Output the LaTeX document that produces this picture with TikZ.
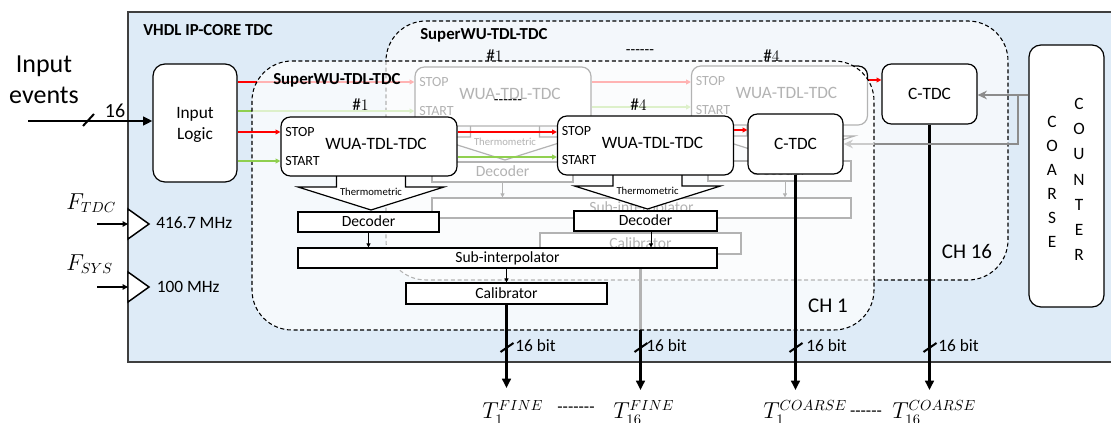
\documentclass[tikz,border=0pt]{standalone}
\usepackage{fontspec}
\setmainfont{Carlito}
\usetikzlibrary{arrows.meta,calc}
\definecolor{bgblue}{HTML}{DEEBF7}
\definecolor{chfill}{HTML}{F3F7FB}
\definecolor{sigred}{HTML}{FF0000}
\definecolor{siggreen}{HTML}{8FCF4F}
\definecolor{cntgray}{HTML}{8C8C8C}
\definecolor{framegray}{HTML}{3F3F3F}
\newcommand{\hy}{\hbox{-}}
\newcommand{\wuablock}[3]{%
  \begin{scope}[shift={(#2,#3)}]
    \draw[fill=white, line width=0.9pt] (-32.5,29.5) -- (-32.5,40.5) -- (-71,40.5) -- (2,63.5) -- (75,40.5) -- (36.5,40.5) -- (36.5,29.5);
    \node[ftiny] (#1-th) at (2,45.5) {Thermometric};
    \node[blk, sz={176}{59}] (#1) at (0,0) {};
    \node[sm, anchor=base west] (#1-stop) at (-84,-9.5) {STOP};
    \node[sm, anchor=base west] (#1-start) at (-84,19.5) {START};
    \node[txt, anchor=base] (#1-lbl) at (7,3.5) {WUA-TDL-TDC};
  \end{scope}}
\begin{document}
\begin{tikzpicture}[x=0.75pt,y=-0.75pt,
  sz/.style 2 args={minimum width=#1*0.75pt, minimum height=#2*0.75pt},
  blk/.style={draw=black, line width=0.9pt, fill=white, rounded corners=7pt, inner sep=0pt},
  rbox/.style={draw=black, line width=0.9pt, fill=white, inner sep=0pt, font=\fontsize{11.7}{14}\selectfont, text height=7.5pt, text depth=0pt},
  txt/.style={inner sep=0pt, font=\fontsize{13}{15.75}\selectfont},
  sm/.style={inner sep=0pt, font=\fontsize{10.5}{12.6}\selectfont},
  ftiny/.style={inner sep=0pt, font=\fontsize{8}{9.6}\selectfont},
  ttl/.style={inner sep=0pt, font=\bfseries\fontsize{12.6}{15}\selectfont},
  chlbl/.style={inner sep=0pt, font=\fontsize{15.7}{18.8}\selectfont},
  hashlbl/.style={inner sep=0pt, font=\fontsize{13}{15}\selectfont},
  mlbl/.style={inner sep=0pt, font=\fontsize{16}{19}\selectfont},
  dashlbl/.style={inner sep=0pt, font=\fontsize{11.5}{13.8}\selectfont},
  chreg/.style={line width=0.8pt, dash pattern=on 3pt off 2pt, rounded corners=30pt},
  sig/.style={line width=1.1pt, -{Triangle[length=3.5pt,width=3.5pt]}},
  thinarr/.style={line width=0.6pt, -{Triangle[length=3pt,width=3pt]}},
  bus/.style={line width=1.9pt, -{Triangle[length=7pt,width=6.5pt]}},
  cnt/.style={draw=cntgray, line width=1.9pt},
  slash/.style={line width=1.5pt}
]
\useasboundingbox (0,0) rectangle (1111,423);

% helper levels
\coordinate (yg82) at (0,82);
\coordinate (yg80) at (0,80);
\coordinate (yg111) at (0,111);
\coordinate (yg107) at (0,107);
\coordinate (y132) at (0,132);
\coordinate (y130) at (0,130);
\coordinate (y161) at (0,161);
\coordinate (y157) at (0,157);
\coordinate (yout) at (0,390);
\coordinate (yout1) at (0,388);

% outer IP core
\draw[draw=framegray, fill=bgblue, line width=1.1pt] (128,12) rectangle (1130,362);
\node[ttl, anchor=base west] (title) at (143,36) {VHDL IP-CORE TDC};

% input logic
\node[blk, sz={84}{118}, rounded corners=9pt, font=\fontsize{13}{15.75}\selectfont, align=center, text depth=0pt] (inlog) at (195,123) {Input\\Logic};

% CH16 region
\draw[chreg, fill=chfill] (386,21) rectangle (1008,280);
\node[ttl, anchor=base west] (sw16) at (420,39.5) {SuperWU-TDL-TDC};
\node[chlbl] (ch16) at (967,251.5) {CH 16};
\node[hashlbl] (gh1) at (494.5,56) {$\#1$};
\node[hashlbl] (gh4) at (771.5,56) {$\#4$};
\node[dashlbl] (gdots) at (640,52) {\hy\hy\hy\hy\hy\hy};

% CH16 ghost content
\node[rbox, sz={419}{20}] (gsub) at (641.5,208) {Sub-interpolator};
\node[rbox, sz={201}{21}] (gcal) at (640.5,243.5) {Calibrator};
\node[rbox, sz={141}{20}] (gdec1) at (502.5,172) {Decoder};
\node[rbox, sz={143}{20}] (gdec4) at (779.5,171) {Decoder};
\wuablock{gw1}{503}{96.5}
\wuablock{gw4}{779.5}{95.5}
\node[blk, sz={95}{60}, txt] (ct16) at (929.5,94) {C-TDC};
\draw[thinarr] (gdec1.south) -- (gdec1.south |- gsub.north);
\draw[thinarr] ($(gdec4.south)+(5.5,0)$) coordinate (gd4s) -- (gd4s |- gsub.north);
\draw[thinarr] (gcal.north |- gsub.south) -- (gcal.north);
\draw[sig, sigred] (inlog.east |- yg82) -- (gw1.west |- yg82);
\draw[sig, siggreen] (inlog.east |- yg111) -- (gw1.west |- yg111);
\draw[sig, sigred] (gw1.east |- yg82) -- (gw4.west |- yg82);
\draw[sig, siggreen] (gw1.east |- yg107) -- (gw4.west |- yg107);
\draw[sig, sigred] (gw4.east |- yg80) -- (ct16.west |- yg80);

% coarse counter
\node[blk, sz={75}{262}, rounded corners=9pt] (counter) at (1066.5,176) {};
\node[txt, align=center, text depth=0pt, font=\fontsize{13}{18}\selectfont] (cw1) at (1052,182) {C\\O\\A\\R\\S\\E};
\node[txt, align=center, text depth=0pt, font=\fontsize{13}{18.9}\selectfont] (cw2) at (1079,179.5) {C\\O\\U\\N\\T\\E\\R};
\coordinate (cj) at (1018,95);
\coordinate (cb) at (1018,144);
\draw[cnt, -{Stealth[length=7pt,width=6.5pt]}] (counter.west |- cj) -- (ct16.east |- cj);

% CH16 outputs
\draw[bus] (gcal.south) -- (gcal.south |- yout);
\draw[bus] (ct16.south) -- (ct16.south |- yout);

% CH1 region (overlay)
\fill[white, opacity=0.7, rounded corners=30pt] (252,61) rectangle (874,330);
\draw[chreg] (252,61) rectangle (874,330);
\node[ttl, anchor=base west] (sw1) at (273,85) {SuperWU-TDL-TDC};
\node[chlbl] (ch1) at (828,305.5) {CH 1};
\node[hashlbl] (h1) at (360.5,104.5) {$\#1$};
\node[hashlbl] (h4) at (638.5,104.5) {$\#4$};
\node[dashlbl] (dots1) at (508,102) {\hy\hy\hy\hy\hy\hy};

% CH1 content
\node[rbox, sz={419}{20}] (sub) at (507.5,258) {Sub-interpolator};
\node[rbox, sz={201}{21}] (cal) at (506.5,293.5) {Calibrator};
\node[rbox, sz={141}{20}] (dec1) at (368.5,222) {Decoder};
\node[rbox, sz={143}{20}] (dec4) at (645.5,221) {Decoder};
\wuablock{w1}{369}{146.5}
\wuablock{w4}{645.5}{145.5}
\node[blk, sz={95}{60}, txt] (ct1) at (795.5,144) {C-TDC};
\draw[thinarr] (dec1.south) -- (dec1.south |- sub.north);
\draw[thinarr] ($(dec4.south)+(5.5,0)$) coordinate (d4s) -- (d4s |- sub.north);
\draw[thinarr] (cal.north |- sub.south) -- (cal.north);
\draw[sig, sigred] (inlog.east |- y132) -- (w1.west |- y132);
\draw[sig, siggreen] (inlog.east |- y161) -- (w1.west |- y161);
\draw[sig, sigred] (w1.east |- y132) -- (w4.west |- y132);
\draw[sig, siggreen] (w1.east |- y157) -- (w4.west |- y157);
\draw[sig, sigred] (w4.east |- y130) -- (ct1.west |- y130);

% counter branch to CH1 C-TDC (faded inside CH1)
\draw[cnt] (cj) -- (cb) -- (874,144);
\draw[draw=cntgray!45, line width=1.9pt, -{Stealth[length=7pt,width=6.5pt]}] (874,144) -- (ct1.east |- cb);

% CH1 outputs
\draw[bus] (cal.south) -- (cal.south |- yout1);
\draw[bus] (ct1.south) -- (ct1.south |- yout);

% bus slashes and widths
\draw[slash] (506.5,347) +(-6,5) -- +(7,-4);
\draw[slash] (640.5,347) +(-6,5) -- +(7,-4);
\draw[slash] (795.5,347) +(-6,5) -- +(7,-4);
\draw[slash] (929.5,347) +(-6,5) -- +(7,-4);
\node[txt, anchor=base west] (b1) at (515,352) {16 bit};
\node[txt, anchor=base west] (b2) at (646,352) {16 bit};
\node[txt, anchor=base west] (b3) at (806,352) {16 bit};
\node[txt, anchor=base west] (b4) at (938,352) {16 bit};

% output labels
\node[mlbl, anchor=base west] (t1f) at (482,419) {$T_1^{FINE}$};
\node[mlbl, anchor=base west] (t16f) at (613,419) {$T_{16}^{FINE}$};
\node[mlbl, anchor=base west] (t1c) at (763,419) {$T_1^{COARSE}$};
\node[mlbl, anchor=base west] (t16c) at (892,419) {$T_{16}^{COARSE}$};
\node[txt] (fdots) at (576,410) {\hy\hy\hy\hy\hy\hy\hy};
\node[txt] (cdots) at (866,414) {\hy\hy\hy\hy\hy\hy};

% input events
\node[inner sep=0pt, align=center, text depth=0pt, font=\fontsize{19.5}{23.25}\selectfont] (inev-lbl) at (44,80) {Input\\events};
\coordinate (inev) at (28,121);
\draw[bus] (inev) -- (inlog.west |- inev);
\draw[slash] (88,121) +(-5,5) -- +(6,-7);
\node[inner sep=0pt, anchor=base, font=\fontsize{15}{18}\selectfont] (n16) at (115,118) {16};

% clocks
\coordinate (ck1) at (97,224);
\coordinate (ck1t) at (128,224);
\coordinate (ck2) at (97,287);
\coordinate (ck2t) at (128,287);
\draw[line width=1.1pt, -{Triangle[length=4pt,width=4pt]}] (ck1) -- (ck1t);
\draw[line width=1.1pt, -{Triangle[length=4pt,width=4pt]}] (ck2) -- (ck2t);
\draw[line width=1.1pt, fill=white] (128,209) -- (149,224) -- (128,239) -- cycle;
\draw[line width=1.1pt, fill=white] (128,272) -- (149,287) -- (128,302) -- cycle;
\node[inner sep=0pt, anchor=base west, font=\fontsize{16}{19}\selectfont] (ftdc) at (66,209.5) {$F_{TDC}$};
\node[inner sep=0pt, anchor=base west, font=\fontsize{16}{19}\selectfont] (fsys) at (66,270.5) {$F_{SYS}$};
\node[txt, anchor=base west] (f1) at (156,229) {416.7 MHz};
\node[txt, anchor=base west] (f2) at (156.5,293) {100 MHz};
\end{tikzpicture}
\end{document}
